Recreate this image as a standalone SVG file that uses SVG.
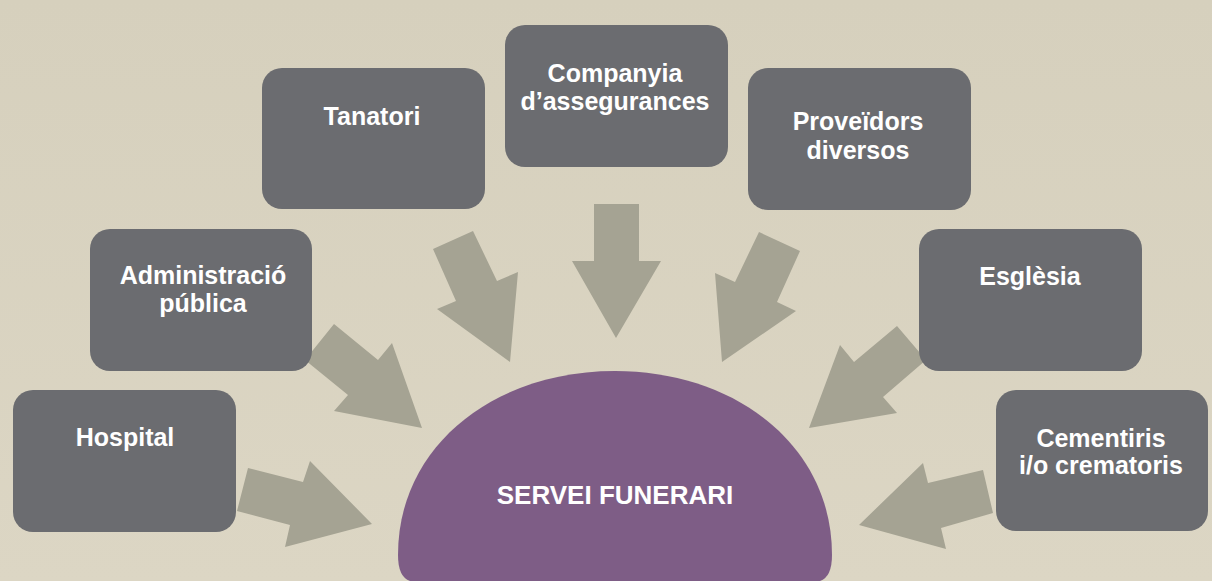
<svg xmlns="http://www.w3.org/2000/svg" width="1212" height="581" viewBox="0 0 1212 581">
  <defs>
    <linearGradient id="bg" x1="0" y1="0" x2="0" y2="1">
      <stop offset="0" stop-color="#d6d0bd"/>
      <stop offset="1" stop-color="#dcd6c4"/>
    </linearGradient>
    <style>
      .box { fill: #6b6c70; }
      .arrow { fill: #a5a393; }
      .lbl { font-family: "Liberation Sans", Arial, sans-serif; font-weight: bold; font-size: 25px; fill: #ffffff; text-anchor: middle; }
      .main { font-size: 26px; }
      .dome { fill: #7e5d86; }
    </style>
  </defs>
  <rect x="0" y="0" width="1212" height="581" fill="url(#bg)"/>

  <g id="connectors">
    <polygon class="arrow" points="237,511 248,468 303,482 310,461 372,524 285,547 290,525"/>
    <polygon class="arrow" points="305,360 334,324 378,360 392,343 422,428 334,411 348,395"/>
    <polygon class="arrow" points="433,249 473,231 497,281 518,272 510,362 437,309 456,301"/>
    <polygon class="arrow" points="594,204 639,204 639,261 661,261 616,338 572,261 594,261"/>
    <polygon class="arrow" points="759,232 800,251 777,302 796,311 722,362 715,273 735,282"/>
    <polygon class="arrow" points="897,326 926,360 883,397 897,413 809,428 840,345 854,362"/>
    <polygon class="arrow" points="983,470 993,513 941,528 946,549 859,525 923,463 928,483"/>
  </g>

  <g id="hospital">
    <rect class="box" x="13" y="390" width="223" height="142" rx="20"/>
    <text class="lbl" x="125" y="446">Hospital</text>
  </g>
  <g id="administracio">
    <rect class="box" x="90" y="229" width="222" height="142" rx="20"/>
    <text class="lbl" x="203" y="284">Administració</text>
    <text class="lbl" x="203" y="312">pública</text>
  </g>
  <g id="tanatori">
    <rect class="box" x="262" y="68" width="223" height="141" rx="20"/>
    <text class="lbl" x="372" y="125">Tanatori</text>
  </g>
  <g id="companyia">
    <rect class="box" x="505" y="25" width="223" height="142" rx="20"/>
    <text class="lbl" x="615" y="82">Companyia</text>
    <text class="lbl" x="615" y="110">d’assegurances</text>
  </g>
  <g id="proveidors">
    <rect class="box" x="748" y="68" width="223" height="142" rx="20"/>
    <text class="lbl" x="858" y="130">Proveïdors</text>
    <text class="lbl" x="858" y="159">diversos</text>
  </g>
  <g id="esglesia">
    <rect class="box" x="919" y="229" width="223" height="142" rx="20"/>
    <text class="lbl" x="1030" y="285">Esglèsia</text>
  </g>
  <g id="cementiris">
    <rect class="box" x="996" y="390" width="212" height="141" rx="20"/>
    <text class="lbl" x="1101" y="447">Cementiris</text>
    <text class="lbl" x="1101" y="474">i/o crematoris</text>
  </g>
  <g id="servei-funerari">
    <path class="dome" d="M 410 581 Q 398 577 398 555 C 398 445 495 371 615 371 C 735 371 832 445 832 555 Q 832 577 820 581 Z"/>
    <text class="lbl main" x="615" y="504">SERVEI FUNERARI</text>
  </g>
</svg>
